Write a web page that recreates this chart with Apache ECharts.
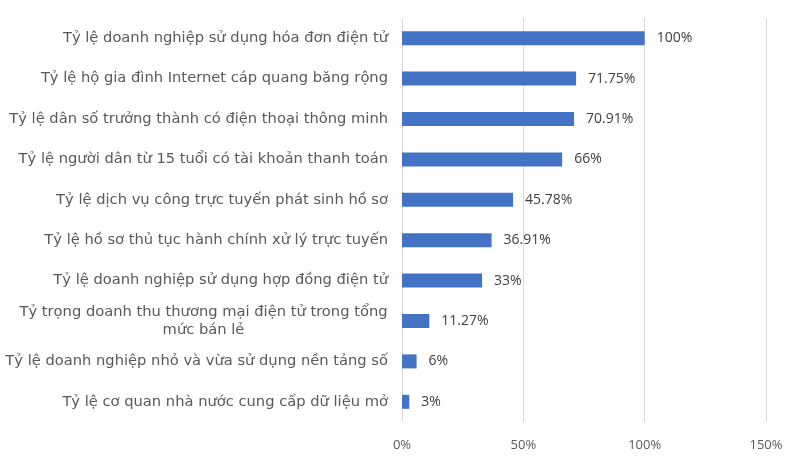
<!DOCTYPE html>
<html>
<head>
<meta charset="utf-8">
<script src="https://cdn.jsdelivr.net/npm/echarts@6/dist/echarts.min.js"></script>
<style>
  html, body { margin: 0; padding: 0; background: #fff; }
  #chart { width: 793px; height: 462px; }
</style>
</head>
<body>
<div id="chart"></div>
<script>
// categories, top to bottom as in the picture
var categories = [
  'Tỷ lệ doanh nghiệp sử dụng hóa đơn điện tử',
  'Tỷ lệ hộ gia đình Internet cáp quang băng rộng',
  'Tỷ lệ dân số trưởng thành có điện thoại thông minh',
  'Tỷ lệ người dân từ 15 tuổi có tài khoản thanh toán',
  'Tỷ lệ dịch vụ công trực tuyến phát sinh hồ sơ',
  'Tỷ lệ hồ sơ thủ tục hành chính xử lý trực tuyến',
  'Tỷ lệ doanh nghiệp sử dụng hợp đồng điện tử',
  'Tỷ trọng doanh thu thương mại điện tử trong tổng\nmức bán lẻ',
  'Tỷ lệ doanh nghiệp nhỏ và vừa sử dụng nền tảng số',
  'Tỷ lệ cơ quan nhà nước cung cấp dữ liệu mở'
]
var values = [100, 71.75, 70.91, 66, 45.78, 36.91, 33, 11.27, 6, 3]
var valueLabels = ['100%', '71.75%', '70.91%', '66%', '45.78%', '36.91%', '33%', '11.27%', '6%', '3%']

var catSize = 14.7
var catFont = catSize + 'px "DejaVu Sans"'

// wrapped labels: centre each line inside the widest line's box
var ctx = document.createElement('canvas').getContext('2d')
ctx.font = catFont
function lineWidth (v) {
  var w = 0
  v.split('\n').forEach(function (l) { w = Math.max(w, ctx.measureText(l).width) })
  return Math.ceil(w)
}
function fmtCat (v) {
  if (v.indexOf('\n') < 0) return v
  var key = 'c' + lineWidth(v)
  return v.split('\n').map(function (l) { return '{' + key + '|' + l + '}' }).join('\n')
}
var rich = {}
categories.forEach(function (c) {
  if (c.indexOf('\n') < 0) return
  var w = lineWidth(c)
  rich['c' + w] = {
    width: w,
    align: 'center',
    color: '#595959',
    fontSize: catSize,
    fontFamily: 'DejaVu Sans',
    lineHeight: 18
  }
})

var chart = echarts.init(document.getElementById('chart'))
var option = {
  animation: false,
  grid: {
    left: 402,
    right: 27,
    top: 18,
    bottom: 40
  },
  xAxis: {
    type: 'value',
    min: 0,
    max: 150,
    interval: 50,
    axisLine: { show: false },
    axisTick: { show: false },
    splitLine: { lineStyle: { color: '#d9d9d9', width: 1 } },
    axisLabel: {
      color: '#595959',
      fontSize: 13,
      fontFamily: 'Open Sans',
      margin: 17,
      formatter: function (v) { return v + '%' }
    }
  },
  yAxis: {
    type: 'category',
    inverse: true,
    data: categories,
    axisLine: { show: false },
    axisTick: { show: false },
    axisLabel: {
      color: '#595959',
      fontSize: catSize,
      fontFamily: 'DejaVu Sans',
      margin: 14,
      align: 'right',
      lineHeight: 18,
      formatter: fmtCat,
      rich: rich
    }
  },
  series: [
    {
      type: 'bar',
      data: values,
      barWidth: 14,
      itemStyle: { color: '#4472c4' },
      label: {
        show: true,
        position: 'right',
        distance: 12,
        color: '#404040',
        fontSize: 14,
        fontFamily: 'Open Sans',
        formatter: function (p) { return valueLabels[p.dataIndex] }
      }
    }
  ]
}
chart.setOption(option)
</script>
</body>
</html>
